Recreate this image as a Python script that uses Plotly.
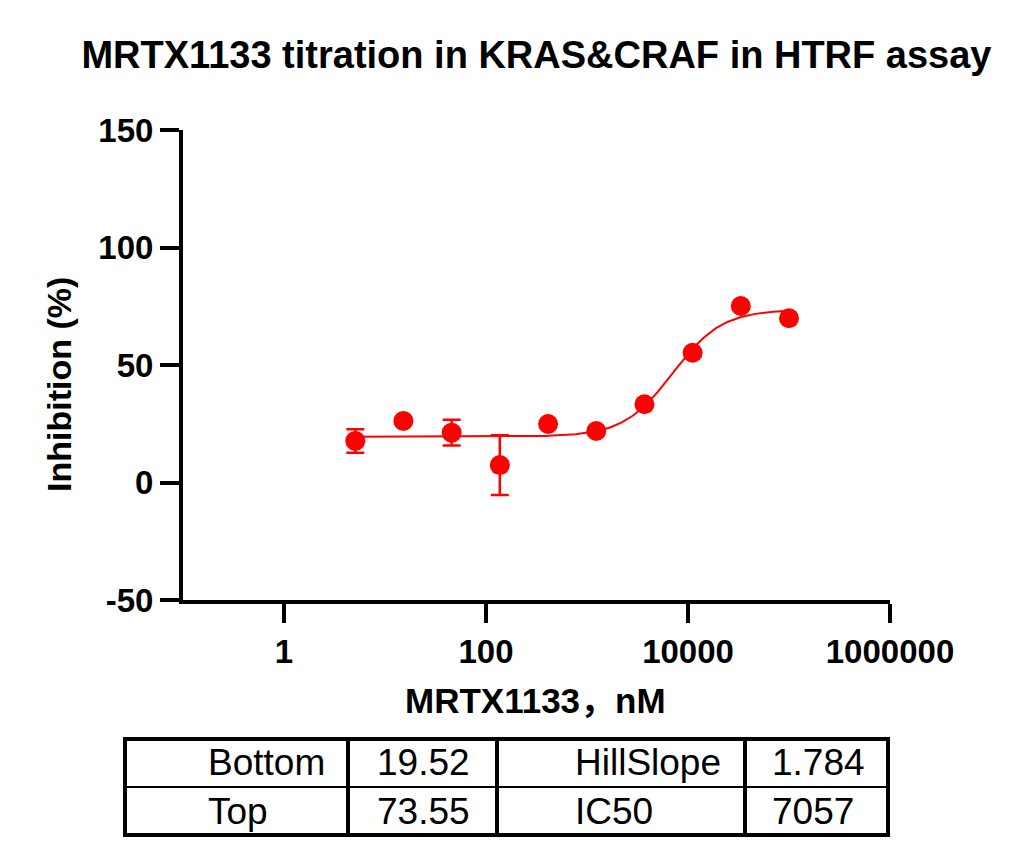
import numpy as np
import plotly.graph_objects as go

# measured points (3-fold dilution series)
conc_nM = [5.08, 15.2, 45.7, 137, 412, 1235, 3704, 11111, 33333, 100000]
inhibition = [17.7, 26.2, 21.2, 7.4, 24.9, 21.9, 33.3, 55.2, 75.1, 69.9]
inhibition_err = [5.0, 0, 5.5, 12.7, 0, 0, 0, 0, 0, 0]

# 4PL fit parameters reported in the table
BOTTOM = 19.52
TOP = 73.55
HILL_SLOPE = 1.784
IC50 = 7057

table_rows = [
    ["Bottom", "19.52", "HillSlope", "1.784"],
    ["Top", "73.55", "IC50", "7057"],
]

y_ticks = [-50, 0, 50, 100, 150]
x_ticks = [1, 100, 10000, 1000000]

RED = "#FF0000"
FONT = "Liberation Sans"

W, H = 1034, 863
OFF = 8  # page body margin added by the browser
PL, PR, PT, PB = 183, 890, 130, 600  # plot area, reference pixels


def px_x(v):
    return (v - PL) / (PR - PL)


def px_y(v):
    return (PB - v) / (PB - PT)


fit_x = np.geomspace(conc_nM[0], conc_nM[-1], 300)
fit_y = BOTTOM + (TOP - BOTTOM) / (1 + (IC50 / fit_x) ** HILL_SLOPE)

fig = go.Figure()
fig.add_trace(go.Scatter(
    x=fit_x, y=fit_y, mode="lines",
    line={"color": RED, "width": 2}, hoverinfo="skip",
))
fig.add_trace(go.Scatter(
    x=conc_nM, y=inhibition, mode="markers",
    marker={"color": RED, "size": 20},
    error_y={"type": "data", "array": inhibition_err, "color": RED,
             "thickness": 2.5, "width": 9},
))

axis_common = dict(
    showline=True, linewidth=4, linecolor="black", mirror=False,
    ticks="outside", ticklen=19, tickwidth=4, tickcolor="black",
    showgrid=False, zeroline=False,
    tickfont={"family": FONT, "size": 33, "color": "black", "weight": "bold"},
)

fig.update_layout(
    width=W, height=H,
    margin={"l": PL - OFF, "r": W - PR + OFF, "t": PT - OFF, "b": H - PB + OFF},
    plot_bgcolor="white", paper_bgcolor="white",
    showlegend=False,
    title={"text": "MRTX1133 titration in KRAS&CRAF in HTRF assay",
           "x": 0.5, "xref": "paper", "y": 1 - (55 - OFF) / H, "yref": "container",
           "xanchor": "center", "yanchor": "middle",
           "font": {"family": FONT, "size": 38, "color": "black", "weight": "bold"}},
    xaxis=dict(axis_common, type="log", range=[-1, 6],
               tickvals=x_ticks, ticktext=[str(v) for v in x_ticks]),
    yaxis=dict(axis_common, range=[-50, 150], tickvals=y_ticks,
               ticktext=[str(v) for v in y_ticks]),
)

# axis titles
fig.add_annotation(text="Inhibition (%)", textangle=-90, x=px_x(59), y=px_y(385),
                   xref="paper", yref="paper", showarrow=False,
                   xanchor="center", yanchor="middle",
                   font={"family": FONT, "size": 34, "color": "black", "weight": "bold"})
fig.add_annotation(text="MRTX1133，nM", x=px_x(535), y=px_y(700),
                   xref="paper", yref="paper", showarrow=False,
                   xanchor="center", yanchor="middle",
                   font={"family": FONT + ", Noto Sans CJK SC", "size": 35,
                         "color": "black", "weight": "bold"})

# parameter table under the plot
tx0, tx1 = 125, 888
ty0, tmid, ty1 = 739, 787, 835
col_edges = [348, 497, 745]
col_text_x = [206, 375, 573, 770]
row_mid = [762, 811]

fig.add_shape(type="rect", xref="paper", yref="paper",
              x0=px_x(tx0), x1=px_x(tx1), y0=px_y(ty0), y1=px_y(ty1),
              line={"color": "black", "width": 4})
fig.add_shape(type="line", xref="paper", yref="paper",
              x0=px_x(tx0), x1=px_x(tx1), y0=px_y(tmid), y1=px_y(tmid),
              line={"color": "black", "width": 2})
for cx in col_edges:
    fig.add_shape(type="line", xref="paper", yref="paper",
                  x0=px_x(cx), x1=px_x(cx), y0=px_y(ty0), y1=px_y(ty1),
                  line={"color": "black", "width": 4})

for r, row in enumerate(table_rows):
    for c, cell in enumerate(row):
        fig.add_annotation(text=cell, x=px_x(col_text_x[c]), y=px_y(row_mid[r]),
                           xref="paper", yref="paper", showarrow=False,
                           xanchor="left", yanchor="middle",
                           font={"family": FONT, "size": 37, "color": "black"})

fig.write_html("out.html")
